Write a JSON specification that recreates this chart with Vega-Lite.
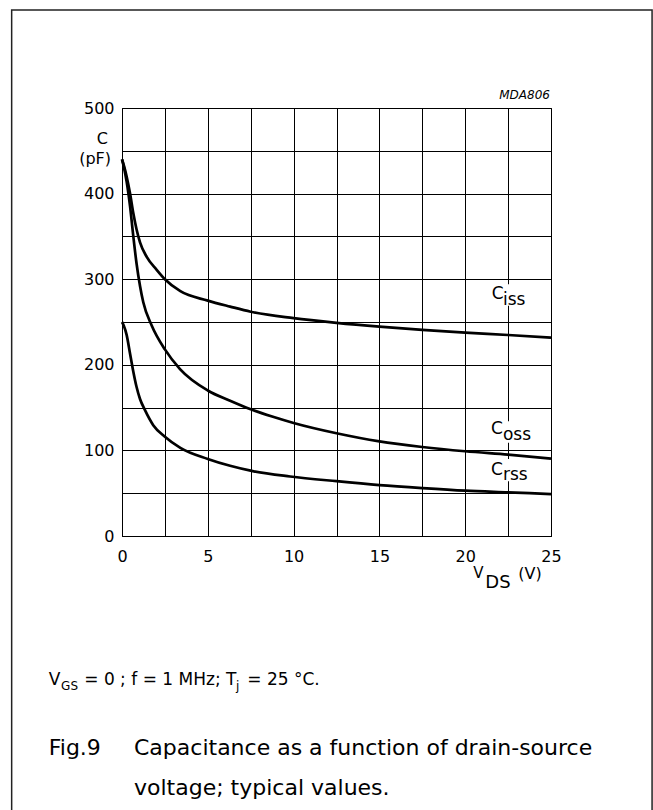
{
  "$schema": "https://vega.github.io/schema/vega-lite/v6.json",
  "width": 429,
  "height": 428,
  "autosize": {"type": "none"},
  "padding": {"left": 122, "top": 108, "right": 102, "bottom": 274},
  "background": "white",
  "config": {
    "font": "DejaVu Sans",
    "view": {"stroke": "#000", "strokeWidth": 1},
    "text": {"font": "DejaVu Sans", "color": "#000", "baseline": "alphabetic"}
  },
  "datasets": {
    "curves": [
      {"s": "Ciss", "v": 0, "c": 440}, {"s": "Ciss", "v": 0.12, "c": 432}, {"s": "Ciss", "v": 0.27, "c": 420},
      {"s": "Ciss", "v": 0.47, "c": 400}, {"s": "Ciss", "v": 0.66, "c": 377}, {"s": "Ciss", "v": 0.85, "c": 358},
      {"s": "Ciss", "v": 1.05, "c": 343}, {"s": "Ciss", "v": 1.44, "c": 326}, {"s": "Ciss", "v": 2.02, "c": 311},
      {"s": "Ciss", "v": 2.5, "c": 300}, {"s": "Ciss", "v": 3.4, "c": 286}, {"s": "Ciss", "v": 5, "c": 275},
      {"s": "Ciss", "v": 6.3, "c": 268}, {"s": "Ciss", "v": 7.5, "c": 262}, {"s": "Ciss", "v": 10, "c": 254.5},
      {"s": "Ciss", "v": 12.5, "c": 249}, {"s": "Ciss", "v": 15, "c": 244.5}, {"s": "Ciss", "v": 17.5, "c": 240.7},
      {"s": "Ciss", "v": 20, "c": 237.5}, {"s": "Ciss", "v": 22.5, "c": 234.8}, {"s": "Ciss", "v": 25, "c": 231.7},
      {"s": "Coss", "v": 0, "c": 440}, {"s": "Coss", "v": 0.12, "c": 430}, {"s": "Coss", "v": 0.27, "c": 414},
      {"s": "Coss", "v": 0.47, "c": 385}, {"s": "Coss", "v": 0.66, "c": 350}, {"s": "Coss", "v": 0.85, "c": 318},
      {"s": "Coss", "v": 1.05, "c": 292}, {"s": "Coss", "v": 1.24, "c": 273}, {"s": "Coss", "v": 1.73, "c": 246},
      {"s": "Coss", "v": 2.5, "c": 218}, {"s": "Coss", "v": 3.38, "c": 195}, {"s": "Coss", "v": 5, "c": 170},
      {"s": "Coss", "v": 6.3, "c": 158}, {"s": "Coss", "v": 7.5, "c": 148}, {"s": "Coss", "v": 8.75, "c": 139.5},
      {"s": "Coss", "v": 10, "c": 132}, {"s": "Coss", "v": 12.5, "c": 120}, {"s": "Coss", "v": 15, "c": 110.5},
      {"s": "Coss", "v": 17.5, "c": 104}, {"s": "Coss", "v": 20, "c": 99}, {"s": "Coss", "v": 22.5, "c": 95},
      {"s": "Coss", "v": 25, "c": 90.5},
      {"s": "Crss", "v": 0, "c": 250}, {"s": "Crss", "v": 0.1, "c": 246}, {"s": "Crss", "v": 0.27, "c": 235},
      {"s": "Crss", "v": 0.47, "c": 213}, {"s": "Crss", "v": 0.66, "c": 192}, {"s": "Crss", "v": 0.85, "c": 174},
      {"s": "Crss", "v": 1.05, "c": 160}, {"s": "Crss", "v": 1.34, "c": 147}, {"s": "Crss", "v": 1.82, "c": 129.5},
      {"s": "Crss", "v": 2.5, "c": 116}, {"s": "Crss", "v": 3.4, "c": 103}, {"s": "Crss", "v": 5, "c": 90},
      {"s": "Crss", "v": 6.3, "c": 82}, {"s": "Crss", "v": 7.56, "c": 76}, {"s": "Crss", "v": 9.8, "c": 69.5},
      {"s": "Crss", "v": 12.5, "c": 64}, {"s": "Crss", "v": 15, "c": 59.5}, {"s": "Crss", "v": 17.5, "c": 56},
      {"s": "Crss", "v": 20, "c": 53}, {"s": "Crss", "v": 22.5, "c": 51}, {"s": "Crss", "v": 25, "c": 49}
    ],
    "frame": [{"v": -6.43, "v2": 30.89, "c": 614.5, "c2": -330}],
    "masks": [
      {"v": 21.45, "v2": 23.6, "c": 294, "c2": 269},
      {"v": 21.45, "v2": 23.9, "c": 134, "c2": 109},
      {"v": 21.45, "v2": 23.6, "c": 90, "c2": 64}
    ],
    "txt17": [
      {"v": 21.55, "c": 277, "t": "C"}, {"v": 22.2, "c": 270, "t": "iss"},
      {"v": 21.5, "c": 119, "t": "C"}, {"v": 22.2, "c": 112, "t": "oss"},
      {"v": 21.5, "c": 71.3, "t": "C"}, {"v": 22.2, "c": 65.4, "t": "rss"},
      {"v": -4.27, "c": -174.3, "t": "V"},
      {"v": -2.2, "c": -174.3, "t": "= 0 ; f = 1 MHz; T"},
      {"v": 7.3, "c": -174.3, "t": "= 25 °C."}
    ],
    "txt12": [
      {"v": -3.55, "c": -179.9, "t": "GS"},
      {"v": 6.65, "c": -179.9, "t": "j"}
    ],
    "ytitle": [
      {"v": -0.82, "c": 458, "t": "C"},
      {"v": -0.64, "c": 435, "t": "(pF)"}
    ],
    "xtV": [{"v": 20.47, "c": -49, "t": "V"}],
    "xtDS": [{"v": 21.17, "c": -60.7, "t": "DS"}],
    "xtUnit": [{"v": 23.09, "c": -50.2, "t": "(V)"}],
    "caption": [
      {"v": -4.27, "c": -255.6, "t": "Fig.9"},
      {"v": 0.7, "c": -255.6, "t": "Capacitance as a function of drain-source"},
      {"v": 0.7, "c": -302.6, "t": "voltage; typical values."}
    ],
    "code": [{"v": 24.94, "c": 510, "t": "MDA806"}]
  },
  "layer": [
    {
      "data": {"name": "frame"},
      "mark": {"type": "rect", "fill": "transparent", "stroke": "#222", "strokeWidth": 1.5, "clip": false},
      "encoding": {
        "x": {"field": "v", "type": "quantitative", "title": null},
        "x2": {"field": "v2"},
        "y": {"field": "c", "type": "quantitative", "title": null},
        "y2": {"field": "c2"}
      }
    },
    {
      "data": {"name": "curves"},
      "mark": {"type": "line", "color": "#000", "strokeWidth": 2.7, "interpolate": "monotone", "clip": false},
      "encoding": {
        "x": {
          "field": "v", "type": "quantitative", "title": null,
          "scale": {"domain": [0, 25], "nice": false, "zero": false},
          "axis": {
            "values": [0, 2.5, 5, 7.5, 10, 12.5, 15, 17.5, 20, 22.5, 25],
            "labelExpr": "datum.value % 5 === 0 ? datum.label : ''",
            "grid": true, "ticks": false, "labelFlush": false, "labelOverlap": false,
            "labelPadding": 12, "labelFontSize": 16, "labelColor": "#000", "labelFont": "DejaVu Sans",
            "domainColor": "#000", "domainWidth": 1,
            "gridColor": "#000", "gridOpacity": 1, "gridWidth": 1
          }
        },
        "y": {
          "field": "c", "type": "quantitative", "title": null,
          "scale": {"domain": [0, 500], "nice": false, "zero": false},
          "axis": {
            "values": [0, 50, 100, 150, 200, 250, 300, 350, 400, 450, 500],
            "labelExpr": "datum.value % 100 === 0 ? datum.label : ''",
            "grid": true, "ticks": false, "labelFlush": false, "labelOverlap": false,
            "labelPadding": 8, "labelFontSize": 16, "labelColor": "#000", "labelFont": "DejaVu Sans",
            "domainColor": "#000", "domainWidth": 1,
            "gridColor": "#000", "gridOpacity": 1, "gridWidth": 1
          }
        },
        "detail": {"field": "s", "type": "nominal"}
      }
    },
    {
      "data": {"name": "masks"},
      "mark": {"type": "rect", "fill": "white", "stroke": null, "clip": false},
      "encoding": {
        "x": {"field": "v", "type": "quantitative", "title": null},
        "x2": {"field": "v2"},
        "y": {"field": "c", "type": "quantitative", "title": null},
        "y2": {"field": "c2"}
      }
    },
    {
      "data": {"name": "txt17"},
      "mark": {"type": "text", "fontSize": 17, "align": "left", "baseline": "alphabetic", "clip": false},
      "encoding": {
        "x": {"field": "v", "type": "quantitative", "title": null},
        "y": {"field": "c", "type": "quantitative", "title": null},
        "text": {"field": "t"}
      }
    },
    {
      "data": {"name": "txt12"},
      "mark": {"type": "text", "fontSize": 12, "align": "left", "baseline": "alphabetic", "clip": false},
      "encoding": {
        "x": {"field": "v", "type": "quantitative", "title": null},
        "y": {"field": "c", "type": "quantitative", "title": null},
        "text": {"field": "t"}
      }
    },
    {
      "data": {"name": "ytitle"},
      "mark": {"type": "text", "fontSize": 16, "align": "right", "baseline": "alphabetic", "clip": false},
      "encoding": {
        "x": {"field": "v", "type": "quantitative", "title": null},
        "y": {"field": "c", "type": "quantitative", "title": null},
        "text": {"field": "t"}
      }
    },
    {
      "data": {"name": "xtV"},
      "mark": {"type": "text", "fontSize": 15, "align": "left", "baseline": "alphabetic", "clip": false},
      "encoding": {
        "x": {"field": "v", "type": "quantitative", "title": null},
        "y": {"field": "c", "type": "quantitative", "title": null},
        "text": {"field": "t"}
      }
    },
    {
      "data": {"name": "xtDS"},
      "mark": {"type": "text", "fontSize": 18, "align": "left", "baseline": "alphabetic", "clip": false},
      "encoding": {
        "x": {"field": "v", "type": "quantitative", "title": null},
        "y": {"field": "c", "type": "quantitative", "title": null},
        "text": {"field": "t"}
      }
    },
    {
      "data": {"name": "xtUnit"},
      "mark": {"type": "text", "fontSize": 16, "align": "left", "baseline": "alphabetic", "clip": false},
      "encoding": {
        "x": {"field": "v", "type": "quantitative", "title": null},
        "y": {"field": "c", "type": "quantitative", "title": null},
        "text": {"field": "t"}
      }
    },
    {
      "data": {"name": "caption"},
      "mark": {"type": "text", "fontSize": 22, "align": "left", "baseline": "alphabetic", "clip": false},
      "encoding": {
        "x": {"field": "v", "type": "quantitative", "title": null},
        "y": {"field": "c", "type": "quantitative", "title": null},
        "text": {"field": "t"}
      }
    },
    {
      "data": {"name": "code"},
      "mark": {"type": "text", "fontSize": 12, "fontStyle": "italic", "align": "right", "baseline": "alphabetic", "clip": false},
      "encoding": {
        "x": {"field": "v", "type": "quantitative", "title": null},
        "y": {"field": "c", "type": "quantitative", "title": null},
        "text": {"field": "t"}
      }
    }
  ]
}
